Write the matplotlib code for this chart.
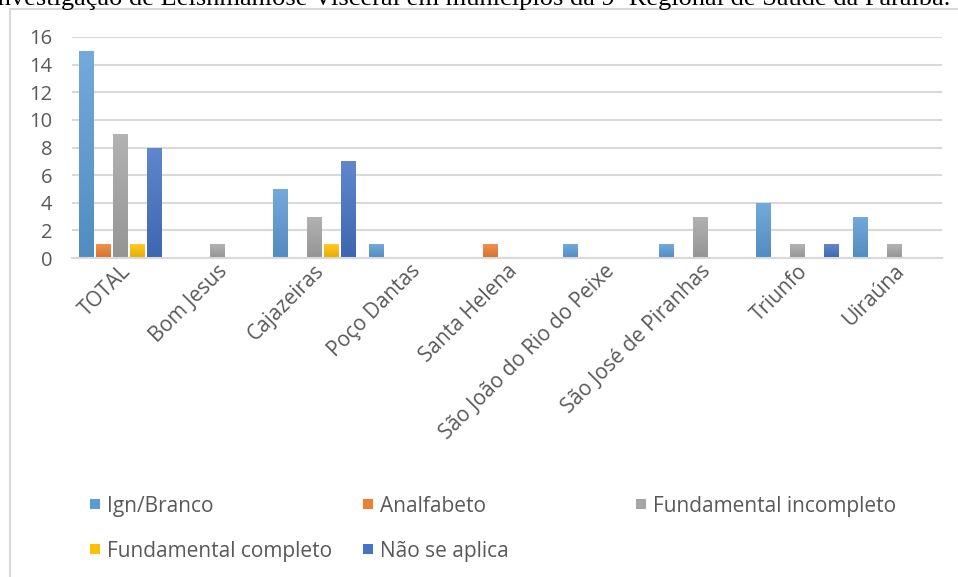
import numpy as np
import matplotlib.pyplot as plt
from matplotlib.patches import Rectangle
from matplotlib.colors import to_rgb

# Data
categories = ['TOTAL', 'Bom Jesus', 'Cajazeiras', 'Poço Dantas', 'Santa Helena',
              'São João do Rio do Peixe', 'São José de Piranhas', 'Triunfo', 'Uiraúna']
series_names = ['Ign/Branco', 'Analfabeto', 'Fundamental incompleto',
                'Fundamental completo', 'Não se aplica']
ign_branco = [15, 0, 5, 1, 0, 1, 1, 4, 3]
analfabeto = [1, 0, 0, 0, 1, 0, 0, 0, 0]
fund_incompleto = [9, 1, 3, 0, 0, 0, 3, 1, 1]
fund_completo = [1, 0, 1, 0, 0, 0, 0, 0, 0]
nao_se_aplica = [8, 0, 7, 0, 0, 0, 0, 1, 0]
values = [ign_branco, analfabeto, fund_incompleto, fund_completo, nao_se_aplica]
colors = ['#5B9BD5', '#ED7D31', '#A5A5A5', '#FFC000', '#4472C4']
yticks = [0, 2, 4, 6, 8, 10, 12, 14, 16]

W, H = 958, 577
fig = plt.figure(figsize=(W / 100, H / 100), dpi=100)

# outer chart frame (light gray)
fig.add_artist(Rectangle((10 / W, -0.05), 2.0, 1.05 - 9 / H, transform=fig.transFigure,
                         fill=False, edgecolor='#D9D9D9', linewidth=1.5))

# caption cropped at the very top, as in the source
fig.text(950 / W, 1 - 5 / H,
         'Investigação de Leishmaniose Visceral em municípios da 9ª Regional de Saúde da Paraíba.',
         ha='right', va='baseline', fontsize=19, family='Liberation Serif', color='black')

ax = fig.add_axes([72 / W, 1 - 258 / H, (942 - 72) / W, (258 - 37) / H])

x = np.arange(len(categories))
bw = 0.145
step = 0.176
for i, (name, vals, col) in enumerate(zip(series_names, values, colors)):
    bars = ax.bar(x + (i - 2) * step, vals, width=bw, color=col, label=name, zorder=3)
    # soft vertical gradient like the Office bar style
    c = np.array(to_rgb(col))
    top = c + (1 - c) * 0.15
    bot = c * 0.9
    grad = np.linspace(0, 1, 64)[:, None, None]
    img = top * (1 - grad) + bot * grad
    for b in bars:
        if b.get_height() <= 0:
            continue
        x0, y0 = b.get_x(), b.get_y()
        im = ax.imshow(img, extent=(x0, x0 + b.get_width(), y0, y0 + b.get_height()),
                       aspect='auto', origin='upper', zorder=3.5, interpolation='bilinear')
        im.set_clip_path(b)

ax.set_xlim(-0.5, len(categories) - 0.5)
ax.set_ylim(0, 16)
ax.set_yticks(yticks)
ax.set_yticklabels([str(v) for v in yticks], fontsize=14.5, color='#595959', family='Open Sans')
ax.yaxis.grid(True, color='#D9D9D9', linewidth=1.5, zorder=0)
ax.set_axisbelow(True)
ax.tick_params(axis='both', length=0)
ax.tick_params(axis='y', pad=14)
for s in ['top', 'right', 'left']:
    ax.spines[s].set_visible(False)
ax.spines['bottom'].set_color('#D9D9D9')
ax.spines['bottom'].set_linewidth(1.5)
ax.spines['bottom'].set_zorder(4)

ax.set_xticks(x)
ax.set_xticklabels(categories, rotation=45, ha='right', rotation_mode='anchor',
                   fontsize=15, color='#595959', family='Open Sans')
ax.tick_params(axis='x', pad=2)

# legend laid out like the source: fixed columns, two rows
legend_pos = [(90, 504), (363, 504), (636, 504), (90, 549), (363, 549)]
for (px, py), name, col in zip(legend_pos, series_names, colors):
    fig.add_artist(Rectangle((px / W, 1 - (py + 5) / H), 10 / W, 10 / H,
                             transform=fig.transFigure, facecolor=col, edgecolor='none'))
    fig.text((px + 17) / W, 1 - py / H, name, ha='left', va='center_baseline',
             fontsize=15, family='Open Sans', color='#595959')

fig.savefig('out.png', dpi=100)
